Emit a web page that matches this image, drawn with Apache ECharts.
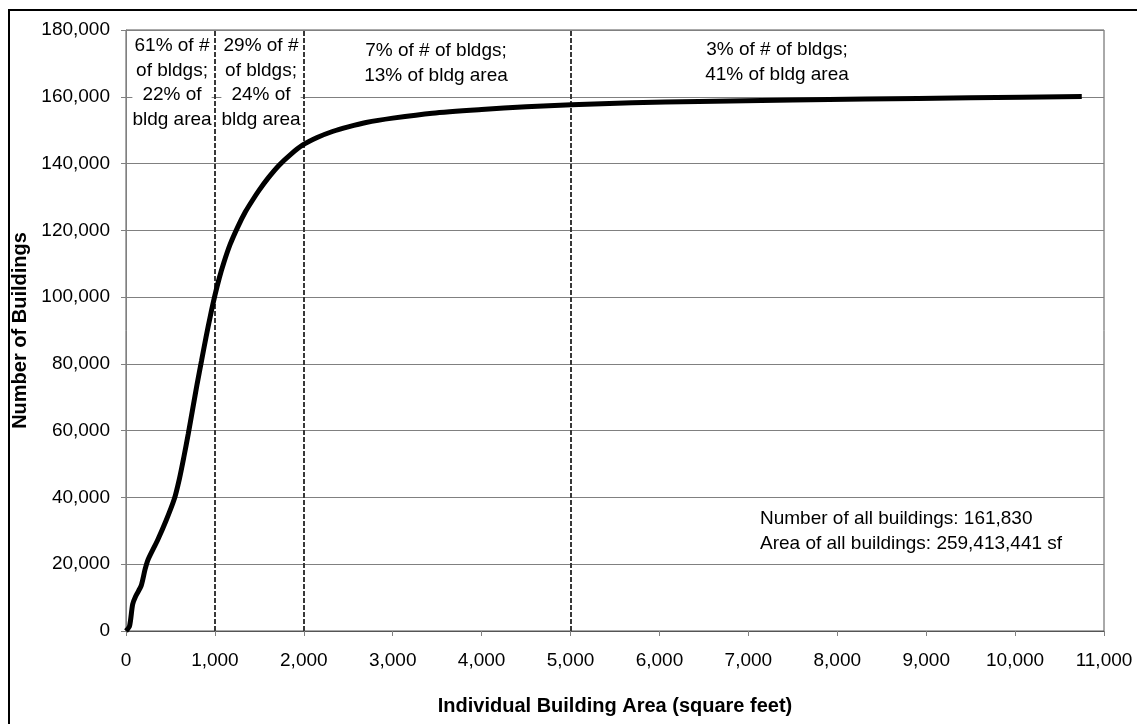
<!DOCTYPE html>
<html>
<head>
<meta charset="utf-8">
<script src="https://cdn.jsdelivr.net/npm/echarts@6/dist/echarts.min.js"></script>
<style>
html,body{margin:0;padding:0;background:#fff;}
#chart{width:1137px;height:724px;}
</style>
</head>
<body>
<div id="chart"></div>
<script>
// Cumulative number of buildings by individual building area
const areaSqFt = [0,40,75,110,170,215,250,355,450,543,600,650,700,750,800,850,900,950,1000,1050,1100,1170,1255,1340,1423,1500,1600,1722,1850,1985,2150,2322,2500,2700,3000,3445,4000,4500,5011,5692,6443,7500,8315,9500,10750];
const buildingCount = [0,1500,8000,10500,13500,18500,21500,27200,33000,39500,45500,52000,59000,66500,74000,81000,88000,94500,100500,105800,110300,115700,120900,125400,129000,132100,135700,139500,142700,145500,147800,149600,151000,152300,153600,155100,156200,157000,157600,158200,158600,159000,159300,159700,160100];
const dividers = [1000, 2000, 5000];
const yTicks = {min: 0, max: 180000, interval: 20000};
const xTicks = {min: 0, max: 11000, interval: 1000};
const bandNotes = [
  "61% of #\nof bldgs;\n22% of\nbldg area",
  "29% of #\nof bldgs;\n24% of\nbldg area",
  "7% of # of bldgs;\n13% of bldg area",
  "3% of # of bldgs;\n41% of bldg area"
];
const totalsNote = "Number of all buildings: 161,830\nArea of all buildings: 259,413,441 sf";

const FONT = '"Liberation Sans", Arial, sans-serif';
const fmt = v => v.toLocaleString('en-US');
const chart = echarts.init(document.getElementById('chart'));

function noteText(text, x, y, align) {
  return {
    type: 'text', z: 1,
    style: {
      text: text, x: x, y: y,
      align: align, verticalAlign: 'top',
      font: '19px ' + FONT, fill: '#000',
      lineHeight: 24.5,
      backgroundColor: '#fff'
    }
  };
}

chart.setOption({
  animation: false,
  backgroundColor: '#fff',
  grid: {left: 126, right: 33, top: 30, bottom: 93, show: true, borderColor: '#555', borderWidth: 1},
  xAxis: {
    type: 'value', min: xTicks.min, max: xTicks.max, interval: xTicks.interval,
    name: 'Individual Building Area (square feet)',
    nameLocation: 'middle', nameGap: 65,
    nameTextStyle: {fontFamily: FONT, fontSize: 20, fontWeight: 'bold', color: '#000'},
    axisLine: {show: true, lineStyle: {color: '#555', width: 1}},
    axisTick: {show: true, length: 5, lineStyle: {color: '#808080'}},
    axisLabel: {margin: 20, fontFamily: FONT, fontSize: 19, color: '#000', formatter: fmt},
    splitLine: {show: false}
  },
  yAxis: {
    type: 'value', min: yTicks.min, max: yTicks.max, interval: yTicks.interval,
    name: 'Number of Buildings',
    nameLocation: 'middle', nameGap: 90,
    nameTextStyle: {fontFamily: FONT, fontSize: 20, fontWeight: 'bold', color: '#000'},
    axisLine: {show: true, lineStyle: {color: '#808080', width: 1}},
    axisTick: {show: true, length: 5, lineStyle: {color: '#808080'}},
    axisLabel: {margin: 16, fontFamily: FONT, fontSize: 19, color: '#000', formatter: fmt},
    splitLine: {show: true, lineStyle: {color: '#808080', width: 1}}
  },
  graphic: [
    {type: 'rect', z: 100, shape: {x: 9, y: 10, width: 1200, height: 800}, style: {fill: 'none', stroke: '#000', lineWidth: 2}},
    noteText(bandNotes[0], 172, 34, 'center'),
    noteText(bandNotes[1], 261, 34, 'center'),
    noteText(bandNotes[2], 436, 39, 'center'),
    noteText(bandNotes[3], 777, 38, 'center'),
    noteText(totalsNote, 760, 507, 'left')
  ],
  series: [{
    type: 'line',
    data: areaSqFt.map((x, i) => [x, buildingCount[i]]),
    showSymbol: false,
    smooth: 0.25,
    z: 3,
    lineStyle: {color: '#000', width: 5},
    markLine: {
      silent: true, symbol: 'none', z: 2,
      label: {show: false},
      lineStyle: {color: '#383838', width: 2, type: [5, 2]},
      data: dividers.map(v => ({xAxis: v}))
    }
  }]
});
</script>
</body>
</html>
